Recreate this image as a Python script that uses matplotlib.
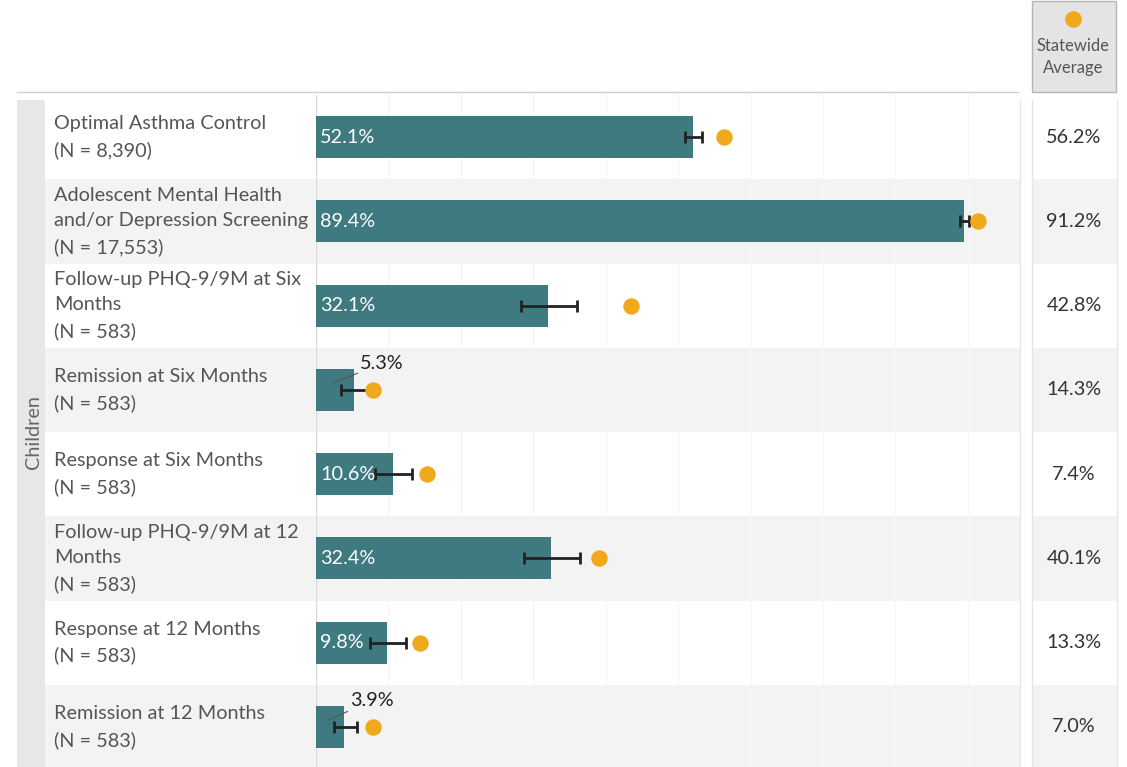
"""
Children quality measures vs. statewide average (bar + CI + dot chart).
"""

import matplotlib
matplotlib.use("Agg")
import matplotlib.pyplot as plt
from matplotlib.patches import Rectangle
from matplotlib.lines import Line2D
from matplotlib.transforms import blended_transform_factory

plt.rcParams["font.family"] = ["Lato", "DejaVu Sans"]

# ── Data ─────────────────────────────────────────────────────────────────────
categories = [
    "Optimal Asthma Control\n(N = 8,390)",
    "Adolescent Mental Health\nand/or Depression Screening\n(N = 17,553)",
    "Follow-up PHQ-9/9M at Six\nMonths\n(N = 583)",
    "Remission at Six Months\n(N = 583)",
    "Response at Six Months\n(N = 583)",
    "Follow-up PHQ-9/9M at 12\nMonths\n(N = 583)",
    "Response at 12 Months\n(N = 583)",
    "Remission at 12 Months\n(N = 583)",
]
rates     = [52.1, 89.4, 32.1, 5.3, 10.6, 32.4, 9.8, 3.9]
ci_low    = [51.0, 88.9, 28.3, 3.5, 8.2, 28.7, 7.5, 2.5]
ci_high   = [53.3, 90.1, 36.1, 7.6, 13.3, 36.5, 12.4, 5.7]
state_dot = [56.4, 91.4, 43.5, 7.9, 15.3, 39.1, 14.4, 7.9]   # dot positions as drawn
state_avg = [56.2, 91.2, 42.8, 14.3, 7.4, 40.1, 13.3, 7.0]   # right-hand column
group     = "Children"

# ── Style ────────────────────────────────────────────────────────────────────
BAR    = "#3e7a80"
DOT    = "#f1a91c"
BAND   = "#f3f3f3"
STRIP  = "#e7e7e7"
LINE   = "#dcdcdc"
TEXT   = "#555555"
DARK   = "#222222"
FS     = 14.3

W, H = 1127, 767
fig = plt.figure(figsize=(W / 100, H / 100), dpi=100, facecolor="white")


def fx(x):
    return x / W


def fy(y):
    return 1 - y / H


XMAX = 97.2
ax = fig.add_axes([fx(316), fy(769), fx(1020) - fx(316), fy(95) - fy(769)])
ax.set_facecolor("none")
n = len(rates)
rows = list(range(n))
ax.set_xlim(0, XMAX)
ax.set_ylim(n - 0.5, -0.5)
for s in ax.spines.values():
    s.set_visible(False)
ax.tick_params(left=False, bottom=False, labelleft=False, labelbottom=False)
ax.set_xticks(range(0, 100, 10))
ax.grid(axis="x", color="#f5f5f5", lw=0.8)
ax.set_axisbelow(True)
ax.axvline(0, color=LINE, lw=1, zorder=1)

px_per_unit = (1020 - 316) / XMAX
tr = blended_transform_factory(fig.transFigure, ax.transData)

# ── Row bands, strips, frames ────────────────────────────────────────────────
for i in rows:
    if i % 2 == 1:
        fig.add_artist(Rectangle((fx(45), i - 0.5), fx(1020) - fx(45), 1,
                                 transform=tr, color=BAND, zorder=-2, lw=0))
        fig.add_artist(Rectangle((fx(1032), i - 0.5), fx(1117) - fx(1032), 1,
                                 transform=tr, color=BAND, zorder=-2, lw=0))

fig.add_artist(Rectangle((fx(17), fy(767)), fx(45) - fx(17), fy(100) - fy(767),
                         transform=fig.transFigure, color=STRIP, zorder=-1, lw=0))
fig.text(fx(33), fy(432), group, rotation=90, ha="center", va="center",
         fontsize=FS, color="#666666")

fig.add_artist(Line2D([fx(17), fx(1018)], [fy(92), fy(92)],
                      transform=fig.transFigure, color="#d0d0d0", lw=1))
for xl in (1020, 1032, 1117):
    fig.add_artist(Line2D([fx(xl), fx(xl)], [fy(100), fy(767)],
                          transform=fig.transFigure, color="#e6e6e6", lw=1, zorder=-1))

# ── Bars, CIs, dots ──────────────────────────────────────────────────────────
ax.barh(rows, rates, height=0.5, color=BAR, zorder=2)
xerr = [[r - lo for r, lo in zip(rates, ci_low)],
        [hi - r for r, hi in zip(rates, ci_high)]]
ax.errorbar(rates, rows, xerr=xerr, fmt="none", ecolor=DARK, elinewidth=2,
            capsize=4.5, capthick=2, zorder=3)
ax.scatter(state_dot, rows, s=140, color=DOT, zorder=4, lw=0)

for i, v in enumerate(rates):
    if v >= 8:
        ax.annotate(f"{v}%", xy=(0, i), xytext=(4, 0), textcoords="offset pixels",
                    color="white", fontsize=FS, ha="left", va="center", zorder=5)
    else:
        dx = 0.55 * v * px_per_unit + 6
        ax.annotate(f"{v}%", xy=(0.45 * v, i - 0.08), xytext=(dx, 20),
                    textcoords="offset pixels", color=DARK, fontsize=FS,
                    ha="left", va="center", zorder=5,
                    arrowprops=dict(arrowstyle="-", color="#555555", lw=0.8,
                                    shrinkA=0, shrinkB=0))

# ── Labels and right column ──────────────────────────────────────────────────
for i, (lab, sa) in enumerate(zip(categories, state_avg)):
    fig.text(fx(54), i, lab, transform=tr, ha="left", va="center",
             fontsize=FS, color=TEXT, linespacing=1.6)
    fig.text(fx(1074), i, f"{sa}%", transform=tr, ha="center", va="center",
             fontsize=FS, color="#333333")

# ── Legend box ───────────────────────────────────────────────────────────────
fig.add_artist(Rectangle((fx(1032), fy(92)), fx(1116) - fx(1032), fy(1) - fy(92),
                         transform=fig.transFigure, facecolor="#e4e4e4",
                         edgecolor="#b5b5b5", lw=1))
fig.add_artist(Line2D([fx(1073)], [fy(19)], marker="o", markersize=12,
                      color=DOT, markeredgewidth=0, transform=fig.transFigure))
fig.text(fx(1073), fy(57), "Statewide\nAverage", ha="center", va="center",
         fontsize=12, color=TEXT, linespacing=1.5)

fig.savefig("out.png", dpi=100, facecolor="white")
plt.close(fig)
